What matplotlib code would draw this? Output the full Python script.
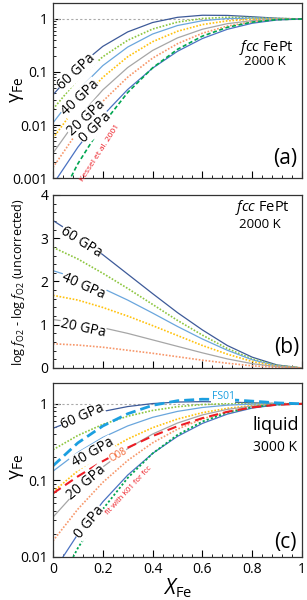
import numpy as np
import matplotlib
matplotlib.use("Agg")
import matplotlib.pyplot as plt
from matplotlib.ticker import MultipleLocator, LogLocator, NullFormatter

plt.rcParams["font.family"] = ["Open Sans", "DejaVu Sans"]
plt.rcParams["mathtext.fontset"] = "custom"
plt.rcParams["mathtext.rm"] = "Open Sans"
plt.rcParams["mathtext.it"] = "Open Sans:italic"
plt.rcParams["mathtext.bf"] = "Open Sans:bold"

# mole fraction of Fe
x_fe = [0.0, 0.1, 0.2, 0.3, 0.4, 0.5, 0.6, 0.7, 0.8, 0.9, 1.0]

# (a) fcc FePt, 2000 K: log10(gamma_Fe)
fcc_60 = [-1.43, -0.907, -0.517, -0.244, -0.067, 0.031, 0.070, 0.067, 0.042, 0.014, 0.0]
fcc_50 = [-1.70, -1.139, -0.713, -0.402, -0.190, -0.059, 0.009, 0.032, 0.026, 0.009, 0.0]
fcc_40 = [-1.96, -1.351, -0.880, -0.530, -0.284, -0.124, -0.033, 0.008, 0.015, 0.007, 0.0]
fcc_30 = [-2.25, -1.608, -1.101, -0.713, -0.429, -0.232, -0.106, -0.036, -0.005, 0.001, 0.0]
fcc_20 = [-2.53, -1.871, -1.338, -0.916, -0.594, -0.357, -0.194, -0.089, -0.031, -0.005, 0.0]
fcc_10 = [-2.80, -2.117, -1.553, -1.098, -0.739, -0.467, -0.269, -0.134, -0.052, -0.011, 0.0]
fcc_0 = [-3.12, -2.418, -1.823, -1.330, -0.928, -0.610, -0.369, -0.195, -0.081, -0.019, 0.0]
kessel = [-3.64, -2.730, -1.985, -1.387, -0.922, -0.573, -0.324, -0.158, -0.059, -0.012, 0.0]

# (b) log fO2 - log fO2 (uncorrected)
df_60 = [3.41, 3.04, 2.62, 2.17, 1.72, 1.28, 0.88, 0.52, 0.25, 0.07, 0.0]
df_50 = [2.79, 2.52, 2.19, 1.84, 1.47, 1.10, 0.76, 0.45, 0.21, 0.06, 0.0]
df_40 = [2.25, 2.07, 1.84, 1.57, 1.27, 0.96, 0.67, 0.41, 0.19, 0.05, 0.0]
df_30 = [1.68, 1.57, 1.40, 1.20, 0.98, 0.75, 0.52, 0.32, 0.15, 0.04, 0.0]
df_20 = [1.12, 1.04, 0.93, 0.80, 0.65, 0.50, 0.35, 0.21, 0.10, 0.03, 0.0]
df_10 = [0.56, 0.53, 0.48, 0.41, 0.34, 0.26, 0.18, 0.11, 0.05, 0.015, 0.0]

# (c) liquid, 3000 K: log10(gamma_Fe)
liq_60 = [-0.32, -0.193, -0.100, -0.036, 0.003, 0.023, 0.028, 0.023, 0.013, 0.004, 0.0]
liq_50 = [-0.60, -0.413, -0.269, -0.162, -0.087, -0.038, -0.010, 0.002, 0.005, 0.002, 0.0]
liq_40 = [-0.88, -0.634, -0.439, -0.289, -0.177, -0.099, -0.048, -0.018, -0.004, 0.0, 0.0]
liq_30 = [-1.15, -0.874, -0.645, -0.460, -0.312, -0.199, -0.116, -0.059, -0.023, -0.005, 0.0]
liq_20 = [-1.48, -1.121, -0.825, -0.585, -0.395, -0.251, -0.145, -0.073, -0.029, -0.006, 0.0]
liq_10 = [-1.79, -1.375, -1.026, -0.740, -0.510, -0.331, -0.197, -0.102, -0.042, -0.010, 0.0]
liq_0 = [-2.20, -1.701, -1.280, -0.931, -0.648, -0.425, -0.256, -0.135, -0.056, -0.013, 0.0]
fs01 = [-0.81, -0.51, -0.29, -0.13, -0.02, 0.04, 0.06, 0.055, 0.035, 0.012, 0.0]
o08 = [-1.17, -0.948, -0.749, -0.573, -0.421, -0.293, -0.187, -0.105, -0.047, -0.012, 0.0]
k01 = [-2.50, -1.883, -1.376, -0.968, -0.648, -0.406, -0.232, -0.115, -0.044, -0.009, 0.0]

C60 = "#3d5a99"
C50 = "#8dc63f"
C40 = "#6aa6dd"
C30 = "#ffc20e"
C20 = "#a6a6a6"
C10 = "#f7976a"
C0 = "#4a72c2"
GREEN = "#00a651"
RED = "#ed1c24"
CYAN = "#1b9fe0"
DOT = (0, (1, 1))

STYLES = [
    (C60, "-", 0.9),
    (C50, DOT, 1.2),
    (C40, "-", 0.9),
    (C30, DOT, 1.2),
    (C20, "-", 0.9),
    (C10, DOT, 1.2),
    (C0, "-", 0.9),
]

fig = plt.figure(figsize=(3.07, 6.0), dpi=100)
axA = fig.add_axes([0.1726, 0.7033, 0.8111, 0.2917])
axB = fig.add_axes([0.1726, 0.3867, 0.8111, 0.2883])
axC = fig.add_axes([0.1726, 0.0717, 0.8111, 0.29])


def Style(ax):
    ax.set_xlim(0, 1)
    ax.xaxis.set_major_locator(MultipleLocator(0.2))
    ax.xaxis.set_minor_locator(MultipleLocator(0.04))
    ax.tick_params(which="both", direction="in", top=False, right=False, labelsize=10)
    ax.tick_params(which="major", length=5, width=0.8)
    ax.tick_params(which="minor", length=2.5, width=0.6)
    for s in ax.spines.values():
        s.set_linewidth(0.9)
        s.set_color("#333333")


def Lbl(ax, x, y, s, rot, size=10, color="black", bg=True):
    t = ax.text(x, y, s, transform=ax.transAxes, rotation=rot, fontsize=size,
                color=color, ha="center", va="center", rotation_mode="anchor")
    if bg:
        t.set_bbox(dict(facecolor="white", edgecolor="none", pad=0.3))
    return t


# ---------- (a)
axA.set_yscale("log")
axA.set_ylim(0.001, 2.0)
axA.axhline(1.0, color="#aaaaaa", lw=0.8, ls=(0, (2, 2)))
for vals, (c, ls, lw) in zip([fcc_60, fcc_50, fcc_40, fcc_30, fcc_20, fcc_10, fcc_0], STYLES):
    axA.plot(x_fe, 10 ** np.array(vals), color=c, ls=ls, lw=lw)
axA.plot(x_fe, 10 ** np.array(kessel), color=GREEN, ls=(0, (2.5, 1.5)), lw=1.2)
Style(axA)
axA.set_yticks([0.001, 0.01, 0.1, 1])
axA.set_yticklabels(["0.001", "0.01", "0.1", "1"])
axA.yaxis.set_minor_locator(LogLocator(base=10, subs=np.arange(2, 10)))
axA.yaxis.set_minor_formatter(NullFormatter())
axA.set_xticklabels([])
Lbl(axA, 0.095, 0.607, "60 GPa", 43)
Lbl(axA, 0.108, 0.457, "40 GPa", 43)
Lbl(axA, 0.135, 0.343, "20 GPa", 43)
Lbl(axA, 0.169, 0.29, "0 GPa", 43)
Lbl(axA, 0.19, 0.143, "Kessel et al. 2001", 57, size=6, color=RED, bg=False)
Lbl(axA, 0.859, 0.746, r"$\mathit{fcc}$ FePt", 0, size=10.5, bg=False)
Lbl(axA, 0.851, 0.663, "2000 K", 0, size=9.5, bg=False)
Lbl(axA, 0.932, 0.114, "(a)", 0, size=15, bg=False)

# ---------- (b)
axB.set_ylim(0, 4)
for vals, (c, ls, lw) in zip([df_60, df_50, df_40, df_30, df_20, df_10], STYLES):
    axB.plot(x_fe, vals, color=c, ls=ls, lw=lw)
Style(axB)
axB.yaxis.set_major_locator(MultipleLocator(1))
axB.yaxis.set_minor_locator(MultipleLocator(0.2))
axB.set_xticklabels([])
Lbl(axB, 0.112, 0.728, "60 GPa", -32)
Lbl(axB, 0.12, 0.474, "40 GPa", -24)
Lbl(axB, 0.12, 0.231, "20 GPa", -12)
Lbl(axB, 0.839, 0.925, r"$\mathit{fcc}$ FePt", 0, size=10.5, bg=False)
Lbl(axB, 0.831, 0.827, "2000 K", 0, size=9.5, bg=False)
Lbl(axB, 0.94, 0.116, "(b)", 0, size=15, bg=False)

# ---------- (c)
axC.set_yscale("log")
axC.set_ylim(0.01, 1.87)
axC.axhline(1.0, color="#aaaaaa", lw=0.8, ls=(0, (2, 2)))
for vals, (c, ls, lw) in zip([liq_60, liq_50, liq_40, liq_30, liq_20, liq_10, liq_0], STYLES):
    axC.plot(x_fe, 10 ** np.array(vals), color=c, ls=ls, lw=lw)
axC.plot(x_fe, 10 ** np.array(k01), color=GREEN, ls=(0, (1.2, 1.2)), lw=1.3)
axC.plot(x_fe, 10 ** np.array(o08), color=RED, ls=(0, (4.5, 2.5)), lw=1.5)
axC.plot(x_fe, 10 ** np.array(fs01), color=CYAN, ls=(0, (3.6, 1.8)), lw=2.0)
Style(axC)
axC.set_yticks([0.01, 0.1, 1])
axC.set_yticklabels(["0.01", "0.1", "1"])
axC.yaxis.set_minor_locator(LogLocator(base=10, subs=np.arange(2, 10)))
axC.yaxis.set_minor_formatter(NullFormatter())
axC.set_xticks([0, 0.2, 0.4, 0.6, 0.8, 1.0])
axC.set_xticklabels(["0", "0.2", "0.4", "0.6", "0.8", "1"])
axC.set_xlabel(r"$\mathit{X}_\mathrm{Fe}$", fontsize=15, labelpad=0)
Lbl(axC, 0.12, 0.806, "60 GPa", 24)
Lbl(axC, 0.159, 0.598, "40 GPa", 30)
Lbl(axC, 0.135, 0.425, "20 GPa", 40)
Lbl(axC, 0.145, 0.201, "0 GPa", 50)
Lbl(axC, 0.261, 0.586, "O08", 30, size=7, color="#f26b3a")
Lbl(axC, 0.305, 0.379, "fit with K01 for fcc", 47, size=5.5, color=RED, bg=False)
Lbl(axC, 0.683, 0.92, "FS01", 0, size=7.5, color=CYAN)
Lbl(axC, 0.896, 0.759, "liquid", 0, size=13, bg=False)
Lbl(axC, 0.892, 0.632, "3000 K", 0, size=10, bg=False)
Lbl(axC, 0.932, 0.086, "(c)", 0, size=15, bg=False)

# y labels
fig.text(0.055, 1 - 90 / 600, r"$\mathrm{γ}_\mathrm{Fe}$", rotation=90, fontsize=14, ha="center", va="center")
fig.text(0.06, 1 - 282 / 600, r"log $\mathit{f}_\mathrm{O2}$ - log $\mathit{f}_\mathrm{O2}$ (uncorrected)",
         rotation=90, fontsize=9, ha="center", va="center")
fig.text(0.055, 1 - 467 / 600, r"$\mathrm{γ}_\mathrm{Fe}$", rotation=90, fontsize=14, ha="center", va="center")

fig.savefig("out.png", dpi=100)
